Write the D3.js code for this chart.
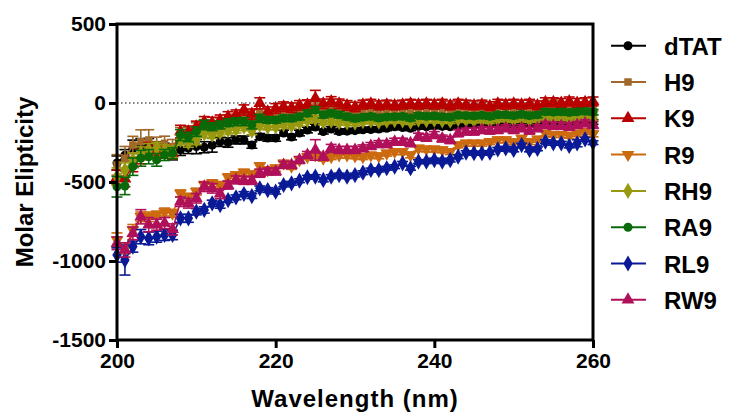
<!DOCTYPE html>
<html>
<head>
<meta charset="utf-8">
<script src="https://cdn.jsdelivr.net/npm/d3@7"></script>
<style>
  body { margin: 0; background: #fff; }
  text { font-family: Arial, "Liberation Sans", sans-serif; font-weight: bold; fill: #000; }
</style>
</head>
<body>
<div id="chart"></div>
<script>
// wavelengths 200..260 nm, 1 nm step
const wavelengths = d3.range(200, 261);

const seriesNames = ["dTAT", "H9", "K9", "R9", "RH9", "RA9", "RL9", "RW9"];
const seriesColors = ["#000000", "#a0692a", "#b80000", "#cc6a10", "#999910", "#0a6a0a", "#0a1a96", "#b0105a"];

const dTAT = [-380,-330,-290,-270,-260,-290,-300,-310,-297,-285,-276,-280,-266,-245,-250,-234,-234,-266,-213,-222,-222,-190,-215,-190,-171,-152,-181,-165,-181,-178,-175,-170,-168,-165,-160,-150,-155,-160,-148,-150,-145,-148,-150,-139,-140,-138,-135,-140,-135,-130,-138,-130,-135,-130,-118,-120,-118,-122,-118,-115,-120];
const H9 = [-392,-350,-266,-245,-234,-266,-255,-276,-200,-195,-170,-140,-150,-130,-110,-100,-80,-100,-60,-85,-70,-60,-65,-55,-45,-30,-50,-40,-45,-50,-55,-45,-40,-48,-42,-45,-40,-48,-38,-42,-40,-45,-48,-35,-38,-40,-36,-42,-32,-35,-40,-30,-38,-35,-20,-22,-20,-25,-20,-18,-25];
const K9 = [-470,-480,-390,-340,-290,-310,-300,-320,-181,-181,-150,-118,-125,-108,-87,-76,-44,-70,-2,-55,-34,-23,-30,-15,-10,30,-5,10,-5,-15,-25,-10,-5,-15,-10,-15,-10,-5,-10,-5,-10,-5,-15,-5,-10,-15,-10,-20,-5,-10,-5,-10,-5,-15,5,5,0,10,0,5,10];
const R9 = [-867,-920,-804,-720,-720,-709,-690,-698,-572,-593,-561,-519,-508,-519,-470,-456,-439,-450,-399,-424,-413,-382,-400,-361,-340,-329,-350,-340,-330,-330,-335,-340,-330,-335,-318,-308,-308,-329,-287,-292,-292,-297,-308,-266,-255,-255,-255,-245,-234,-234,-245,-224,-245,-230,-192,-200,-200,-205,-192,-181,-196];
const RH9 = [-466,-424,-360,-318,-297,-285,-300,-310,-234,-250,-234,-192,-200,-185,-171,-165,-150,-175,-139,-150,-148,-135,-140,-125,-108,-100,-118,-112,-120,-122,-124,-115,-110,-118,-112,-108,-110,-118,-105,-108,-105,-110,-112,-100,-105,-108,-104,-112,-100,-100,-105,-97,-105,-100,-90,-92,-90,-95,-90,-87,-92];
const RA9 = [-530,-525,-403,-350,-340,-360,-329,-318,-203,-215,-181,-139,-150,-139,-125,-118,-118,-139,-97,-108,-108,-97,-97,-87,-65,-44,-75,-65,-75,-87,-97,-90,-85,-95,-88,-87,-85,-95,-80,-85,-82,-87,-90,-78,-80,-82,-78,-85,-75,-75,-80,-72,-80,-75,-55,-58,-55,-60,-55,-52,-58];
const RL9 = [-962,-994,-909,-846,-857,-846,-835,-835,-730,-730,-688,-677,-635,-646,-614,-597,-576,-589,-540,-551,-561,-519,-508,-492,-470,-466,-487,-466,-456,-466,-456,-441,-424,-424,-413,-403,-382,-413,-371,-371,-361,-371,-361,-340,-314,-318,-318,-314,-293,-287,-297,-266,-297,-290,-245,-255,-255,-272,-255,-230,-251];
const RW9 = [-888,-930,-825,-720,-770,-770,-760,-800,-625,-635,-603,-530,-540,-575,-520,-487,-490,-490,-445,-434,-434,-392,-392,-361,-329,-297,-340,-287,-297,-297,-297,-287,-272,-260,-260,-245,-245,-255,-213,-220,-203,-225,-235,-192,-181,-181,-171,-175,-171,-160,-171,-160,-175,-160,-139,-145,-145,-150,-139,-129,-139];

// error bars (SEM)
const dTATErr = [45,35,55,45,35,45,45,50,35,35,45,35,45,30,30,25,25,20,20,20,20,18,18,18,18,18,15,15,15,15,15,15,15,15,15,15,15,15,15,15,15,15,15,15,15,15,15,15,15,15,15,15,15,15,15,15,15,15,15,15,15];
const H9Err = [65,75,55,75,65,50,45,45,45,40,45,35,35,35,35,30,30,30,40,28,28,28,28,28,28,30,28,28,28,28,28,25,25,25,25,25,25,25,25,25,25,25,25,25,25,25,25,25,25,28,25,25,25,25,30,40,25,25,25,25,25];
const K9Err = [45,50,45,45,40,40,35,35,40,35,35,32,35,32,32,32,32,32,35,30,30,30,30,30,30,50,30,30,30,30,30,28,28,28,28,28,28,28,28,28,28,28,28,28,28,28,28,28,28,28,28,28,28,28,28,28,28,28,28,28,28];
const R9Err = [45,35,35,30,30,25,25,25,22,22,22,22,22,22,22,20,20,20,20,20,20,20,20,18,18,18,18,18,18,18,18,18,18,18,18,18,18,18,18,18,18,18,18,18,18,18,18,18,18,18,18,18,18,18,18,18,18,18,18,18,18];
const RH9Err = [55,45,45,40,40,35,35,35,30,30,30,25,25,25,25,25,25,25,25,20,20,20,20,20,20,20,20,20,20,20,20,18,18,18,18,18,18,18,18,18,18,18,18,18,18,18,18,18,18,18,18,18,18,18,18,18,18,18,18,18,18];
const RA9Err = [65,55,55,50,45,40,35,35,35,30,30,30,25,25,25,25,25,25,25,20,20,20,20,20,20,20,20,20,20,20,20,18,18,18,18,18,18,18,18,18,18,18,18,18,18,18,18,18,18,18,18,18,18,18,18,18,18,18,18,18,18];
const RL9Err = [45,95,35,45,40,35,35,30,25,25,20,20,20,20,15,15,15,15,15,15,15,12,12,12,12,12,12,12,12,12,12,12,12,12,12,12,12,12,12,12,12,12,12,12,12,12,12,12,12,12,12,12,12,12,12,12,12,12,22,12,12];
const RW9Err = [40,45,40,45,45,35,35,35,30,30,30,30,30,30,25,25,25,25,25,22,22,22,22,22,22,65,22,25,22,22,22,22,22,22,22,22,22,22,22,22,22,22,22,22,22,22,22,22,22,22,22,22,22,22,22,22,22,22,22,22,22];

const seriesValues = [dTAT, H9, K9, R9, RH9, RA9, RL9, RW9];
const seriesErrors = [dTATErr, H9Err, K9Err, R9Err, RH9Err, RA9Err, RL9Err, RW9Err];
// marker: [d3 symbol, rotation]
const seriesMarkers = [
  [d3.symbolCircle, 0], [d3.symbolSquare, 0], [d3.symbolTriangle, 0], [d3.symbolTriangle, 180],
  [d3.symbolDiamond, 0], [d3.symbolCircle, 0], [d3.symbolDiamond, 0], [d3.symbolTriangle, 0]
];

const xTicks = [200, 220, 240, 260];
const yTicks = [-1500, -1000, -500, 0, 500];

const W = 732, H = 415;
const plot = {left: 117, right: 593, top: 24, bottom: 340};

const svg = d3.select("#chart").append("svg")
  .attr("width", W).attr("height", H)
  .attr("xmlns", "http://www.w3.org/2000/svg");

const x = d3.scaleLinear().domain([200, 260]).range([plot.left, plot.right]);
const y = d3.scaleLinear().domain([-1500, 500]).range([plot.bottom, plot.top]);

// zero line
svg.append("line")
  .attr("x1", plot.left).attr("x2", plot.right)
  .attr("y1", y(0)).attr("y2", y(0))
  .attr("stroke", "#000").attr("stroke-width", 1)
  .attr("stroke-dasharray", "1.5,2.5");

const symbolSize = [64, 56, 72, 72, 76, 64, 76, 72];

const lineGen = d3.line()
  .x(function(d) { return x(d.w); })
  .y(function(d) { return y(d.v); });

for (let s = 0; s < seriesNames.length; s++) {
  const color = seriesColors[s];
  const data = wavelengths.map(function(w, i) {
    return {w: w, v: seriesValues[s][i], e: seriesErrors[s][i]};
  });
  const g = svg.append("g").attr("class", "series-" + seriesNames[s]);

  // error bars
  const eb = g.selectAll(".err").data(data).enter().append("g").attr("class", "err")
    .attr("stroke", color).attr("stroke-width", 1.6);
  eb.append("line")
    .attr("x1", function(d) { return x(d.w); })
    .attr("x2", function(d) { return x(d.w); })
    .attr("y1", function(d) { return y(d.v - d.e); })
    .attr("y2", function(d) { return y(d.v + d.e); });
  eb.append("line")
    .attr("x1", function(d) { return x(d.w) - 5.5; })
    .attr("x2", function(d) { return x(d.w) + 5.5; })
    .attr("y1", function(d) { return y(d.v + d.e); })
    .attr("y2", function(d) { return y(d.v + d.e); });
  eb.append("line")
    .attr("x1", function(d) { return x(d.w) - 5.5; })
    .attr("x2", function(d) { return x(d.w) + 5.5; })
    .attr("y1", function(d) { return y(d.v - d.e); })
    .attr("y2", function(d) { return y(d.v - d.e); });

  g.append("path")
    .datum(data)
    .attr("d", lineGen)
    .attr("fill", "none")
    .attr("stroke", color)
    .attr("stroke-width", 1.5);

  const sym = d3.symbol().type(seriesMarkers[s][0]).size(symbolSize[s]);
  g.selectAll(".pt").data(data).enter().append("path").attr("class", "pt")
    .attr("d", sym)
    .attr("fill", color)
    .attr("transform", function(d) {
      return "translate(" + x(d.w) + "," + y(d.v) + ") rotate(" + seriesMarkers[s][1] + ")";
    });
}

// frame
svg.append("rect")
  .attr("x", plot.left).attr("y", plot.top)
  .attr("width", plot.right - plot.left).attr("height", plot.bottom - plot.top)
  .attr("fill", "none").attr("stroke", "#000").attr("stroke-width", 3);

// axes
const xAxis = svg.append("g")
  .attr("transform", "translate(0," + plot.bottom + ")")
  .call(d3.axisBottom(x).tickValues(xTicks).tickSize(8).tickPadding(5).tickFormat(d3.format("d")));
const yAxis = svg.append("g")
  .attr("transform", "translate(" + plot.left + ",0)")
  .call(d3.axisLeft(y).tickValues(yTicks).tickSize(8).tickPadding(3).tickFormat(d3.format("d")));

[xAxis, yAxis].forEach(function(a) {
  a.select(".domain").remove();
  a.selectAll(".tick line").attr("stroke", "#000").attr("stroke-width", 3);
  a.selectAll(".tick text")
    .attr("fill", "#000")
    .style("font-size", "21px")
    .style("font-family", "Arial, 'Liberation Sans', sans-serif")
    .style("font-weight", "bold");
});
yAxis.selectAll(".tick text").text(function(d) { return d < 0 ? "-" + Math.abs(d) : d; });

// axis titles
svg.append("text")
  .attr("x", (plot.left + plot.right) / 2).attr("y", 407)
  .attr("text-anchor", "middle")
  .style("font-size", "24px").style("letter-spacing", "1px")
  .text("Wavelength (nm)");

svg.append("text")
  .attr("transform", "translate(33," + ((plot.top + plot.bottom) / 2) + ") rotate(-90)")
  .attr("text-anchor", "middle")
  .style("font-size", "24px")
  .text("Molar Elipticity");

// legend
const legend = svg.append("g").attr("class", "legend");
seriesNames.forEach(function(name, s) {
  const cy = 45.7 + s * 36.3;
  const row = legend.append("g");
  row.append("line")
    .attr("x1", 611).attr("x2", 646).attr("y1", cy).attr("y2", cy)
    .attr("stroke", seriesColors[s]).attr("stroke-width", 2);
  row.append("path")
    .attr("d", d3.symbol().type(seriesMarkers[s][0]).size(symbolSize[s])())
    .attr("fill", seriesColors[s])
    .attr("transform", "translate(628," + cy + ") rotate(" + seriesMarkers[s][1] + ")");
  row.append("text")
    .attr("x", 664).attr("y", cy + 9)
    .style("font-size", "24px")
    .text(name);
});
</script>
</body>
</html>
